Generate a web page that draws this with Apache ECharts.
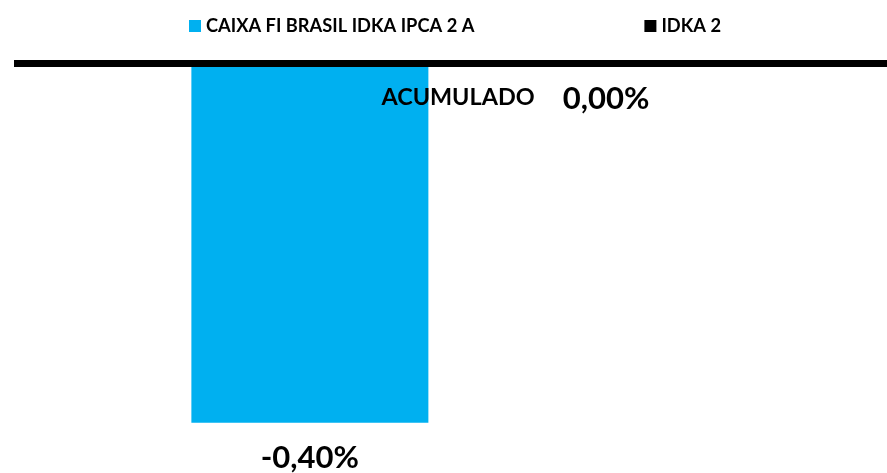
<!DOCTYPE html>
<html><head><meta charset="utf-8">
<script src="https://cdn.jsdelivr.net/npm/echarts@6/dist/echarts.min.js"></script>
<style>html,body{margin:0;padding:0;background:#fff}#c{width:887px;height:473px}</style>
</head><body><div id="c"></div>
<script>
const categories = ['ACUMULADO'];
const seriesNames = ['CAIXA FI BRASIL IDKA IPCA 2 A', 'IDKA 2'];
const fundValues = [-0.40];
const benchValues = [0.00];
const yMin = -0.40, yMax = 0;

const fmt = p => p.value.toFixed(2).replace('.', ',') + '%';
const labelStyle = {show: true, position: 'bottom', distance: 20, formatter: fmt,
  fontFamily: 'Lato', fontWeight: 'bold', fontSize: 31, color: '#000'};

const chart = echarts.init(document.getElementById('c'));
chart.setOption({
  animation: false,
  textStyle: {fontFamily: 'Lato'},
  legend: {
    left: 184, top: 12, itemGap: 170, itemWidth: 12, itemHeight: 12, icon: 'rect',
    textStyle: {fontFamily: 'Lato', fontWeight: 'bold', fontSize: 18.3, color: '#000'},
    data: seriesNames
  },
  grid: [
    {left: 14, right: 0, top: 63.5, bottom: 50.3, containLabel: false},
    {left: 29, right: 0, top: 63.5, bottom: 50.3, containLabel: false}
  ],
  xAxis: [
    {gridIndex: 0, type: 'category', data: categories, position: 'top',
     axisLine: {onZero: false, lineStyle: {color: '#000', width: 7, cap: 'butt'}},
     axisTick: {show: false}, axisLabel: {show: false}, z: 10},
    {gridIndex: 1, type: 'category', data: categories, position: 'top',
     axisLine: {show: false}, axisTick: {show: false},
     axisLabel: {inside: true, margin: 22, fontFamily: 'Lato', fontWeight: 'bold', fontSize: 23.4, color: '#000'},
     z: 10}
  ],
  yAxis: [
    {gridIndex: 0, type: 'value', min: yMin, max: yMax, show: false, splitLine: {show: false}},
    {gridIndex: 1, type: 'value', min: yMin, max: yMax, show: false, splitLine: {show: false}}
  ],
  series: [
    {name: seriesNames[0], type: 'bar', xAxisIndex: 1, yAxisIndex: 1, data: fundValues, barWidth: 237, barGap: '25%',
     itemStyle: {color: '#00B0F0'}, label: labelStyle},
    {name: seriesNames[1], type: 'bar', xAxisIndex: 1, yAxisIndex: 1, data: benchValues, barWidth: 237,
     itemStyle: {color: '#000'}, label: labelStyle}
  ]
});
</script></body></html>
